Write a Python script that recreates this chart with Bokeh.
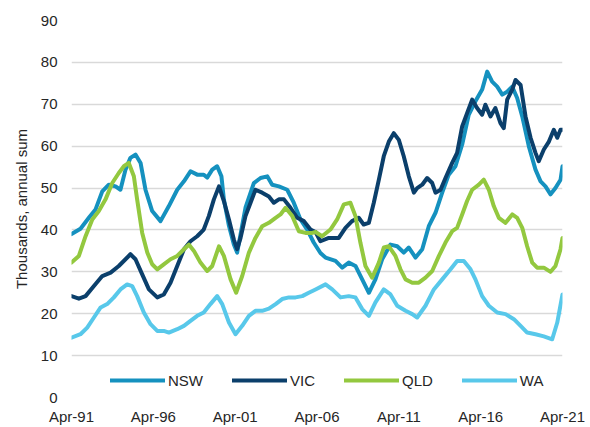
from bokeh.plotting import figure
from bokeh.models import FixedTicker, Legend, LegendItem
from bokeh.embed import file_html
from bokeh.resources import INLINE

# ---------------- data (decimal years, thousands) ----------------
tick_years = [1991.25, 1996.25, 2001.25, 2006.25, 2011.25, 2016.25, 2021.25]
tick_labels = ["Apr-91", "Apr-96", "Apr-01", "Apr-06", "Apr-11", "Apr-16", "Apr-21"]

nsw_x = [1991.25, 1991.80, 1992.31, 1992.72, 1993.13, 1993.53, 1993.94, 1994.24, 1994.55, 1994.85,
         1995.16, 1995.47, 1995.77, 1996.18, 1996.69, 1997.20, 1997.71, 1998.12, 1998.52, 1998.93,
         1999.33, 1999.54, 1999.85, 2000.15, 2000.41, 2000.56, 2000.87, 2001.17, 2001.37, 2001.88,
         2002.39, 2002.80, 2003.21, 2003.51, 2003.92, 2004.43, 2004.83, 2005.24, 2005.65, 2006.05,
         2006.46, 2006.77, 2007.38, 2007.79, 2008.19, 2008.60, 2009.01, 2009.42, 2009.82, 2010.23,
         2010.74, 2011.15, 2011.55, 2011.86, 2012.27, 2012.68, 2013.08, 2013.49, 2013.90, 2014.30,
         2014.71, 2015.12, 2015.52, 2015.93, 2016.34, 2016.65, 2016.95, 2017.26, 2017.57, 2017.87,
         2018.18, 2018.48, 2018.79, 2019.19, 2019.60, 2019.91, 2020.21, 2020.52, 2020.82, 2021.13,
         2021.25]
nsw_y = [39.0, 40.3, 42.9, 44.9, 49.2, 50.8, 50.4, 49.6, 54.4, 57.2,
         58.0, 56.0, 49.6, 44.5, 42.1, 45.7, 49.6, 51.6, 54.0, 53.2,
         53.2, 52.5, 54.4, 55.2, 52.8, 47.3, 41.0, 36.5, 34.6, 45.3,
         51.2, 52.4, 52.8, 50.8, 50.4, 49.6, 46.5, 42.5, 40.1, 37.0,
         34.5, 33.4, 32.6, 31.0, 32.2, 31.4, 28.2, 25.0, 28.2, 33.0,
         36.5, 36.1, 34.6, 35.8, 33.4, 35.4, 40.9, 44.1, 48.9, 53.2,
         55.2, 60.4, 67.5, 70.7, 73.5, 77.8, 75.4, 74.2, 72.3, 73.0,
         74.2, 71.5, 67.1, 60.0, 54.4, 51.6, 50.4, 48.5, 50.0, 52.0,
         55.2]

vic_x = [1991.25, 1991.70, 1992.11, 1992.62, 1993.13, 1993.64, 1994.14, 1994.55, 1994.85, 1995.16,
         1995.57, 1995.98, 1996.49, 1996.89, 1997.30, 1997.71, 1998.12, 1998.52, 1998.93, 1999.33,
         1999.64, 1999.95, 2000.26, 2000.56, 2000.87, 2001.17, 2001.37, 2001.58, 2001.88, 2002.19,
         2002.49, 2002.90, 2003.31, 2003.61, 2003.92, 2004.23, 2004.63, 2005.04, 2005.45, 2005.85,
         2006.16, 2006.46, 2006.97, 2007.58, 2007.99, 2008.39, 2008.80, 2009.10, 2009.42, 2009.72,
         2010.03, 2010.33, 2010.64, 2010.94, 2011.25, 2011.55, 2011.86, 2012.17, 2012.37, 2012.68,
         2012.98, 2013.29, 2013.49, 2013.80, 2014.10, 2014.51, 2014.81, 2015.12, 2015.42, 2015.73,
         2016.03, 2016.34, 2016.54, 2016.85, 2017.15, 2017.46, 2017.66, 2017.87, 2018.18, 2018.38,
         2018.69, 2018.99, 2019.30, 2019.60, 2019.80, 2020.11, 2020.42, 2020.72, 2020.93, 2021.13,
         2021.25]
vic_y = [24.2, 23.6, 24.2, 26.6, 29.0, 29.8, 31.4, 33.0, 34.2, 33.0,
         29.4, 25.8, 23.9, 24.6, 27.4, 31.4, 35.4, 37.3, 38.5, 40.1,
         43.3, 47.3, 50.4, 46.9, 42.5, 37.7, 35.4, 38.1, 43.3, 46.5,
         49.6, 48.9, 48.0, 46.5, 47.3, 47.3, 45.3, 42.9, 42.1, 40.1,
         39.5, 37.3, 38.1, 38.1, 40.5, 42.1, 42.9, 41.3, 41.7, 46.5,
         52.0, 57.6, 61.1, 63.1, 61.5, 57.6, 52.8, 48.9, 50.0, 50.8,
         52.4, 51.2, 48.9, 49.6, 52.4, 56.0, 58.4, 64.7, 67.9, 71.1,
         69.1, 67.5, 69.9, 67.1, 69.1, 65.5, 64.3, 71.1, 73.5, 75.8,
         74.6, 67.1, 62.0, 58.4, 56.4, 59.2, 61.1, 63.9, 62.0, 63.9,
         63.9]

qld_x = [1991.25, 1991.70, 1992.11, 1992.52, 1992.92, 1993.33, 1993.74, 1994.14, 1994.45, 1994.75,
         1995.06, 1995.26, 1995.57, 1995.88, 1996.18, 1996.49, 1996.89, 1997.30, 1997.71, 1998.12,
         1998.42, 1998.73, 1999.13, 1999.54, 1999.85, 2000.26, 2000.56, 2000.97, 2001.31, 2001.68,
         2002.09, 2002.49, 2002.90, 2003.31, 2003.72, 2004.02, 2004.33, 2004.74, 2005.14, 2005.55,
         2005.96, 2006.16, 2006.56, 2007.07, 2007.48, 2007.89, 2008.29, 2008.60, 2008.90, 2009.21,
         2009.62, 2010.03, 2010.33, 2010.64, 2011.04, 2011.35, 2011.66, 2012.07, 2012.47, 2012.88,
         2013.29, 2013.70, 2014.10, 2014.51, 2014.81, 2015.12, 2015.42, 2015.73, 2016.14, 2016.44,
         2016.75, 2017.05, 2017.36, 2017.77, 2018.18, 2018.48, 2018.79, 2019.09, 2019.40, 2019.70,
         2020.11, 2020.52, 2020.82, 2021.13, 2021.25]
qld_y = [32.2, 33.8, 38.5, 42.5, 44.5, 47.3, 51.2, 53.6, 55.2, 56.0,
         52.8, 47.3, 39.3, 34.6, 31.8, 30.6, 31.8, 33.0, 33.8, 35.4,
         36.5, 35.0, 32.2, 30.2, 31.4, 36.1, 33.8, 28.2, 25.0, 29.0,
         34.6, 38.1, 40.9, 41.7, 42.9, 43.7, 45.3, 43.3, 39.7, 39.3,
         39.3, 39.5, 38.5, 40.1, 42.5, 46.1, 46.5, 43.3, 37.0, 31.4,
         28.6, 32.2, 35.8, 36.1, 33.8, 30.6, 28.2, 27.4, 27.4, 28.6,
         30.2, 33.8, 37.0, 39.7, 40.5, 43.7, 46.9, 49.6, 50.8, 52.0,
         49.6, 45.7, 42.9, 41.7, 43.7, 42.9, 40.5, 36.1, 32.2, 31.0,
         31.0, 30.0, 31.4, 35.4, 38.1]

wa_x = [1991.25, 1991.80, 1992.21, 1992.62, 1993.03, 1993.43, 1993.84, 1994.24, 1994.65, 1994.96,
        1995.26, 1995.67, 1996.08, 1996.49, 1996.89, 1997.20, 1997.71, 1998.12, 1998.52, 1998.93,
        1999.33, 1999.74, 2000.15, 2000.46, 2000.87, 2001.27, 2001.68, 2002.09, 2002.49, 2002.90,
        2003.31, 2003.72, 2004.12, 2004.53, 2004.94, 2005.35, 2005.75, 2006.16, 2006.77, 2007.18,
        2007.69, 2008.19, 2008.60, 2009.01, 2009.42, 2009.82, 2010.33, 2010.74, 2011.15, 2011.66,
        2012.07, 2012.37, 2012.88, 2013.39, 2013.90, 2014.41, 2014.81, 2015.22, 2015.63, 2015.93,
        2016.34, 2016.75, 2017.26, 2017.77, 2018.28, 2018.69, 2019.09, 2019.60, 2020.11, 2020.62,
        2020.93, 2021.25]
wa_y = [14.3, 15.1, 16.7, 19.1, 21.5, 22.3, 23.9, 25.8, 27.0, 26.6,
        24.2, 20.3, 17.5, 15.9, 15.9, 15.5, 16.3, 17.1, 18.3, 19.5,
        20.3, 22.3, 24.2, 22.3, 17.9, 15.1, 17.1, 19.5, 20.7, 20.7,
        21.2, 22.3, 23.5, 23.9, 23.9, 24.2, 25.0, 25.8, 27.0, 25.8,
        23.9, 24.2, 23.9, 21.1, 19.5, 22.7, 25.8, 24.6, 21.9, 20.7,
        19.9, 19.1, 21.9, 25.8, 28.2, 30.6, 32.6, 32.6, 30.6, 28.2,
        24.2, 21.9, 20.3, 19.9, 18.7, 17.1, 15.5, 15.1, 14.6, 13.9,
        17.9, 24.6]

series_names = ["NSW", "VIC", "QLD", "WA"]
series_colors = ["#1591BF", "#0B3F6B", "#93C83F", "#58C8EA"]
series_data = [(nsw_x, nsw_y), (vic_x, vic_y), (qld_x, qld_y), (wa_x, wa_y)]

FONT = "Liberation Sans"
TXT = "#262626"

p = figure(width=590, height=427, output_backend="svg", toolbar_location=None,
           x_range=(1991.25, 2021.25), y_range=(0, 90),
           min_border_left=71, min_border_right=28, min_border_top=20, min_border_bottom=29)
p.outline_line_color = None
p.background_fill_color = "white"
p.border_fill_color = "white"

# y axis
p.yaxis.ticker = FixedTicker(ticks=list(range(0, 91, 10)))
p.yaxis.axis_line_color = None
p.yaxis.major_tick_line_color = None
p.yaxis.minor_tick_line_color = None
p.yaxis.major_tick_out = 0
p.yaxis.major_label_standoff = 14
p.yaxis.major_label_text_font = FONT
p.yaxis.major_label_text_font_size = "15px"
p.yaxis.major_label_text_color = TXT
p.yaxis.axis_label = "Thousands, annual sum"
p.yaxis.axis_label_text_font = FONT
p.yaxis.axis_label_text_font_size = "15px"
p.yaxis.axis_label_text_font_style = "normal"
p.yaxis.axis_label_text_color = TXT
p.yaxis.axis_label_standoff = 8

# x axis
p.xaxis.ticker = FixedTicker(ticks=tick_years)
p.xaxis.major_label_overrides = {t: l for t, l in zip(tick_years, tick_labels)}
p.xaxis.axis_line_color = None
p.xaxis.major_tick_line_color = None
p.xaxis.minor_tick_line_color = None
p.xaxis.major_tick_out = 0
p.xaxis.major_label_standoff = 10
p.xaxis.major_label_text_font = FONT
p.xaxis.major_label_text_font_size = "15px"
p.xaxis.major_label_text_color = TXT

p.xgrid.grid_line_color = None
p.ygrid.grid_line_color = "#D9D9D9"
p.ygrid.grid_line_width = 1.5

items = []
for name, color, (xs, ys) in zip(series_names, series_colors, series_data):
    r = p.line(xs, ys, line_color=color, line_width=4, line_join="round", line_cap="round")
    items.append(LegendItem(label=name, renderers=[r]))

legend = Legend(items=items, orientation="horizontal", location=(39, 8),
                glyph_width=55, glyph_height=18, label_height=18, label_standoff=3,
                spacing=29, padding=0, margin=0, border_line_color=None,
                background_fill_alpha=0,
                label_text_font=FONT, label_text_font_size="15px", label_text_color=TXT)
p.add_layout(legend, "center")

open("out.html", "w").write(file_html(p, INLINE))
